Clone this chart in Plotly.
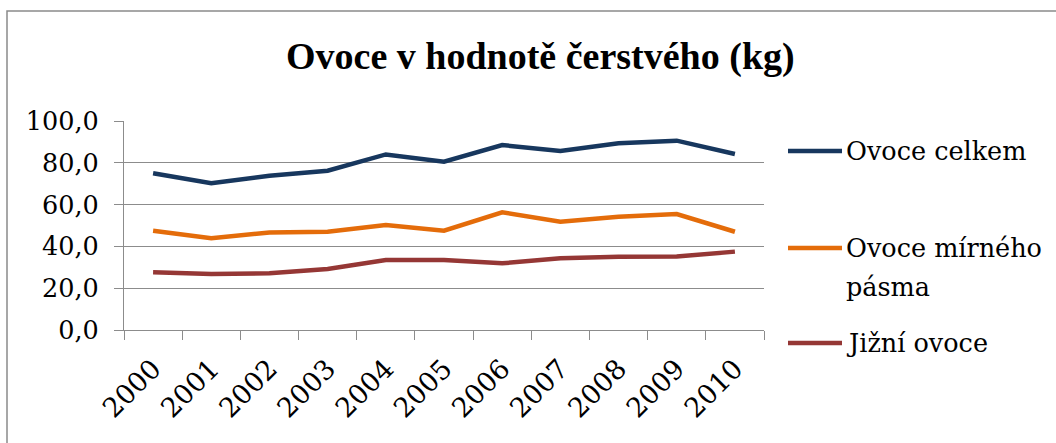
import plotly.graph_objects as go

years = ["2000", "2001", "2002", "2003", "2004", "2005", "2006", "2007", "2008", "2009", "2010"]
ovoce_celkem = [75.0, 70.2, 73.8, 76.2, 84.0, 80.5, 88.5, 85.6, 89.3, 90.6, 84.2]
ovoce_mirneho = [47.5, 43.9, 46.7, 47.0, 50.2, 47.5, 56.3, 51.8, 54.2, 55.5, 47.0]
jizni_ovoce = [27.6, 26.8, 27.1, 29.2, 33.5, 33.5, 31.9, 34.3, 35.1, 35.2, 37.5]

series_names = ["Ovoce celkem", "Ovoce mírného pásma", "Jižní ovoce"]
legend_lines = [["Ovoce celkem"], ["Ovoce mírného", "pásma"], ["Jižní ovoce"]]
series_values = [ovoce_celkem, ovoce_mirneho, jizni_ovoce]
series_colors = ["#17375E", "#E46C0A", "#953735"]
title_text = "Ovoce v hodnotě čerstvého (kg)"

W, H = 1056, 443
ML, MR, MT, MB = 124, 292, 121, 113
PW, PH = W - ML - MR, H - MT - MB
FONT = "DejaVu Serif"
TITLE_FONT = "Liberation Serif"
FS = 25.5
FS_X = 27
GRID = "#8c8c8c"

def px_to_paper_x(px):
    return (px - ML) / PW

def py_to_paper_y(py):
    return (H - MB - py) / PH

fig = go.Figure()
for name, vals, col in zip(series_names, series_values, series_colors):
    fig.add_trace(go.Scatter(x=years, y=vals, mode="lines", name=name,
                             line=dict(color=col, width=4.5), showlegend=False))

# Custom legend (line sample + text lines), positioned in pixel space
legend_line_y = [151, 248, 343]
line_gap = 39
shapes = []
annotations = []
for lines, col, ly in zip(legend_lines, series_colors, legend_line_y):
    shapes.append(dict(type="line", xref="paper", yref="paper",
                       x0=px_to_paper_x(788), x1=px_to_paper_x(842),
                       y0=py_to_paper_y(ly), y1=py_to_paper_y(ly),
                       line=dict(color=col, width=4.5)))
    for i, txt in enumerate(lines):
        annotations.append(dict(xref="paper", yref="paper", x=px_to_paper_x(844),
                                y=py_to_paper_y(ly + i * line_gap), text=txt,
                                showarrow=False, xanchor="left", yanchor="middle",
                                align="left",
                                font=dict(family=FONT, size=FS, color="black")))

# Chart border (clipped at right/bottom as in the reference)
shapes.append(dict(type="rect", xref="paper", yref="paper",
                   x0=px_to_paper_x(7), x1=px_to_paper_x(1062),
                   y0=py_to_paper_y(455), y1=py_to_paper_y(11),
                   line=dict(color="#8a8a8a", width=1.5), layer="below"))

annotations.append(dict(xref="paper", yref="paper", x=px_to_paper_x(540),
                        y=py_to_paper_y(57), text=title_text,
                        showarrow=False, xanchor="center", yanchor="middle",
                        font=dict(family=TITLE_FONT, size=38, color="black", weight="bold")))

fig.update_layout(
    width=W, height=H,
    margin=dict(l=ML, r=MR, t=MT, b=MB),
    paper_bgcolor="white", plot_bgcolor="white",
    separators=", ",
    font=dict(family=FONT, size=FS, color="black"),
    shapes=shapes, annotations=annotations,
    showlegend=False,
)
fig.update_xaxes(type="category", range=[-0.5, 10.5], tickson="boundaries",
                 ticks="outside", ticklen=9, tickcolor=GRID, tickwidth=1.2,
                 showline=True, linecolor=GRID, linewidth=1.2,
                 showgrid=False, tickangle=-45, ticklabelstandoff=11,
                 tickfont=dict(family=FONT, size=FS_X, color="black"))
fig.update_yaxes(range=[0, 100], dtick=20, tickformat=".1f",
                 ticks="outside", ticklen=9, tickcolor=GRID, tickwidth=1.2,
                 showline=True, linecolor=GRID, linewidth=1.2,
                 showgrid=True, gridcolor=GRID, gridwidth=1.2,
                 zeroline=False, ticklabelstandoff=10,
                 tickfont=dict(family=FONT, size=FS, color="black"))

fig.write_html("out.html", config={"displayModeBar": False},
               post_script="document.body.style.margin='0';document.body.style.overflow='hidden';")
